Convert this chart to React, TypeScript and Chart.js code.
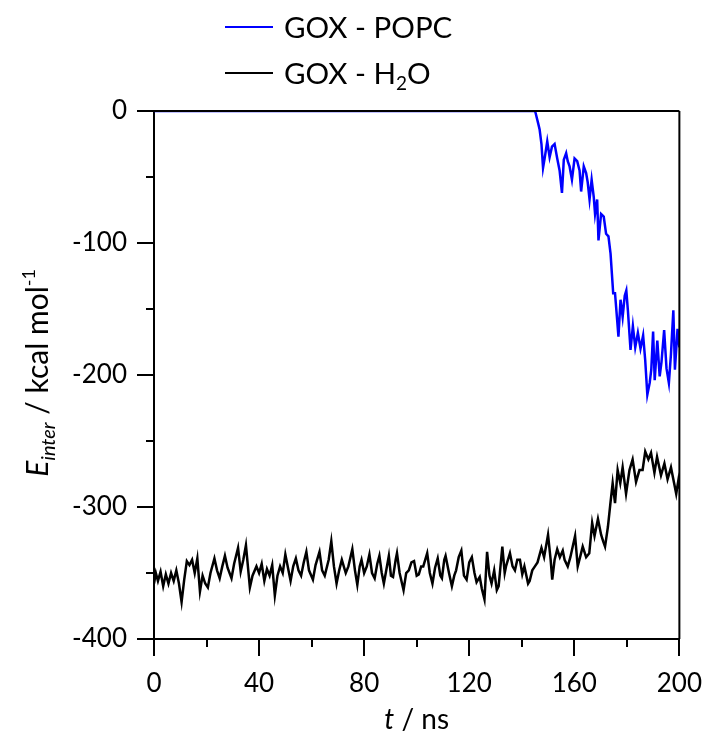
import React, { useEffect, useRef } from "react";
import { Chart, registerables } from "chart.js";

Chart.register(...registerables);

const FONT = "Lato, 'Open Sans', sans-serif";

// GOX - H2O interaction energy (kcal/mol) vs time (ns)
const tH2O = [
  0, 0.7, 1.5, 2.5, 3.5, 4.5, 5.5, 6.5, 7.5, 8.5, 9.5, 10.5, 11.5, 12.5, 13.5, 14.5, 15.5, 16.5, 17.5, 18.5,
  19.5, 20.5, 21.5, 23, 24, 25, 26, 27, 28, 29.5, 30.5, 32, 33, 34, 35, 36.5, 37.5, 39, 40, 41,
  42, 43, 44, 45, 46, 47, 48, 49, 50, 51, 52, 53, 54, 55, 56, 57, 58, 59, 60.5, 61.5,
  63, 64, 65, 66.5, 67.5, 68.5, 69.5, 70.5, 71.5, 73, 74, 75.5, 76.5, 77.4, 78.3, 79, 80, 81, 82, 83,
  84, 85, 85.8, 86.7, 87.5, 88.5, 89.4, 90.2, 91, 92, 92.5, 93.5, 95, 96, 97, 98, 99, 100, 100.8, 101.7,
  102.5, 104, 105, 106, 107, 108, 109, 109.6, 110.5, 111, 112.3, 113.4, 114.3, 115, 116, 117, 118, 119, 120, 121,
  122, 122.8, 124, 124.8, 125.8, 126.8, 127.7, 128.5, 129.5, 130.5, 131.2, 132.6, 133.5, 134, 135.5, 136.5, 137.4, 138.3, 139.3, 140.2,
  141, 142.4, 143, 144, 145, 146, 147.5, 148.5, 150, 151, 151.6, 152.5, 153.5, 154.5, 155.6, 156.3, 157.5, 158.5, 159.4, 160.3,
  161.3, 162.2, 163.2, 164.5, 165.7, 166.8, 167.7, 169, 170.2, 171, 171.7, 172.8, 173.7, 174.6, 175.5, 176.5, 177.5, 178.4, 179.7, 181,
  182.2, 183.5, 184.8, 186, 187, 188.2, 189.2, 190.5, 191.5, 193, 194.3, 195.5, 196.8, 198, 198.8, 199.6, 200,
];
const eH2O = [
  -358, -350, -356, -349, -360, -351, -358, -350, -356, -348, -358, -372, -355, -341, -344, -340, -350, -339, -364, -352,
  -358, -361, -350, -339, -348, -354, -345, -337, -346, -354, -343, -331, -349, -340, -329, -361, -352, -345, -350, -343,
  -356, -347, -352, -344, -367, -352, -345, -350, -336, -346, -356, -345, -339, -348, -352, -342, -334, -348, -355, -344,
  -334, -348, -352, -340, -326, -345, -358, -348, -340, -350, -345, -332, -348, -359, -345, -340, -350, -345, -336, -350,
  -354, -343, -337, -350, -358, -347, -337, -352, -353, -340, -335, -350, -363, -350, -348, -342, -341, -352, -351, -345,
  -345, -335, -350, -358, -346, -339, -352, -354, -340, -337, -350, -360, -352, -348, -338, -333, -352, -355, -342, -338,
  -350, -357, -353, -362, -370, -334, -352, -358, -348, -363, -360, -330, -350, -345, -335, -345, -348, -340, -340, -351,
  -345, -358, -356, -348, -345, -342, -331, -338, -321, -340, -355, -340, -332, -338, -333, -340, -345, -338, -330, -322,
  -345, -338, -330, -338, -335, -312, -322, -309, -321, -326, -330, -315, -298, -282, -297, -272, -282, -270, -290, -272,
  -264, -281, -272, -272, -258, -264, -259, -274, -262, -276, -267, -279, -270, -282, -290, -280, -286,
];

// GOX - POPC interaction energy (kcal/mol) vs time (ns)
const tPOPC = [
  0, 145, 145.2, 146.2, 146.8, 147.5, 148.1, 148.7, 149.7, 150.6, 151.5, 152.5, 153.5, 154.4, 155.3, 156, 156.9, 157.5, 158.2, 159.1,
  160.1, 161.1, 162, 162.6, 163.6, 164.5, 165.1, 165.8, 166.6, 167.4, 167.9, 168.7, 169.2, 170.2, 171.2, 172.1, 173, 173.8, 174.3, 174.8,
  175.5, 176.3, 176.8, 177.6, 178.4, 179.2, 179.8, 180.4, 181.4, 182.3, 183.2, 184.2, 185.2, 186.2, 187, 187.8, 188.7, 189.3, 190, 190.6,
  191.6, 192.5, 193.2, 194.2, 195.1, 196, 196.8, 197.7, 198.3, 199.3, 200,
];
const ePOPC = [
  0, 0, -1, -9, -14, -25, -43, -36, -23, -35, -27, -25, -36, -45, -62, -37, -32, -38, -42, -52,
  -36, -38, -45, -61, -42, -47, -54, -67, -52, -65, -78, -67, -98, -78, -80, -93, -95, -108, -123, -138,
  -138, -158, -171, -143, -156, -140, -136, -151, -181, -163, -179, -168, -180, -170, -189, -215, -206, -196, -167, -204,
  -174, -201, -190, -166, -195, -206, -184, -151, -196, -165, -179,
];

const seriesLabels = ["GOX - POPC", "GOX - H2O"];
const seriesColors = ["#0000FF", "#000000"];
const xMajor = [0, 40, 80, 120, 160, 200];
const xMinor = [20, 60, 100, 140, 180];
const yMajor = [0, -100, -200, -300, -400];
const yMinor = [-50, -150, -250, -350];

type Run = { text: string; italic?: boolean; size: number; dy?: number };

function drawRuns(ctx: CanvasRenderingContext2D, runs: Run[], x: number, y: number, align: "left" | "center") {
  let total = 0;
  for (const r of runs) {
    ctx.font = `${r.italic ? "italic " : ""}${r.size}px ${FONT}`;
    total += ctx.measureText(r.text).width;
  }
  let cx = align === "center" ? x - total / 2 : x;
  ctx.textAlign = "left";
  ctx.textBaseline = "alphabetic";
  for (const r of runs) {
    ctx.font = `${r.italic ? "italic " : ""}${r.size}px ${FONT}`;
    ctx.fillText(r.text, cx, y + (r.dy || 0));
    cx += ctx.measureText(r.text).width;
  }
}

const decorPlugin = {
  id: "decor",
  afterDraw(chart: any) {
    const ctx: CanvasRenderingContext2D = chart.ctx;
    const { left, right, top, bottom } = chart.chartArea;
    const xs = chart.scales.x;
    const ys = chart.scales.y;
    ctx.save();
    ctx.strokeStyle = "#000";
    ctx.fillStyle = "#000";
    ctx.lineWidth = 2;
    // frame top & right
    ctx.beginPath();
    ctx.moveTo(left, top);
    ctx.lineTo(right, top);
    ctx.moveTo(right, top);
    ctx.lineTo(right, bottom);
    ctx.stroke();
    // minor ticks
    ctx.beginPath();
    for (const v of xMinor) {
      const px = Math.round(xs.getPixelForValue(v));
      ctx.moveTo(px, bottom);
      ctx.lineTo(px, bottom + 8);
    }
    for (const v of yMinor) {
      const py = Math.round(ys.getPixelForValue(v));
      ctx.moveTo(left, py);
      ctx.lineTo(left - 8, py);
    }
    ctx.stroke();

    // legend
    const legY = [27, 73];
    for (let i = 0; i < 2; i++) {
      ctx.strokeStyle = seriesColors[i];
      ctx.lineWidth = 2;
      ctx.beginPath();
      ctx.moveTo(225, legY[i]);
      ctx.lineTo(273, legY[i]);
      ctx.stroke();
    }
    ctx.fillStyle = "#000";
    drawRuns(ctx, [{ text: seriesLabels[0], size: 29.5 }], 284, legY[0] + 11, "left");
    drawRuns(
      ctx,
      [
        { text: "GOX - H", size: 29.5 },
        { text: "2", size: 19, dy: 6 },
        { text: "O", size: 29.5 },
      ],
      284,
      legY[1] + 11,
      "left"
    );

    // x title
    drawRuns(
      ctx,
      [
        { text: "t", italic: true, size: 28 },
        { text: " / ns", size: 28 },
      ],
      (left + right) / 2,
      729,
      "center"
    );

    // y title (rotated)
    ctx.translate(48, 373);
    ctx.rotate(-Math.PI / 2);
    drawRuns(
      ctx,
      [
        { text: "E", italic: true, size: 30 },
        { text: "inter", italic: true, size: 20, dy: 7 },
        { text: " / kcal mol", size: 30 },
        { text: "-1", size: 18, dy: -13 },
      ],
      0,
      0,
      "center"
    );
    ctx.restore();
  },
};

export default function App() {
  const ref = useRef<HTMLCanvasElement | null>(null);
  useEffect(() => {
    if (!ref.current) return;
    const chart = new Chart(ref.current, {
      type: "line",
      data: {
        datasets: [
          {
            label: seriesLabels[0],
            data: tPOPC.map((t, i) => ({ x: t, y: ePOPC[i] })),
            borderColor: seriesColors[0],
            borderWidth: 2.5,
            pointRadius: 0,
            tension: 0,
            fill: false,
          },
          {
            label: seriesLabels[1],
            data: tH2O.map((t, i) => ({ x: t, y: eH2O[i] })),
            borderColor: seriesColors[1],
            borderWidth: 2.5,
            pointRadius: 0,
            tension: 0,
            fill: false,
          },
        ],
      },
      options: {
        animation: false,
        responsive: false,
        maintainAspectRatio: false,
        layout: { padding: { top: 111, right: 32, left: 0, bottom: 0 } },
        plugins: { legend: { display: false }, tooltip: { enabled: false } },
        scales: {
          x: {
            type: "linear",
            min: 0,
            max: 200,
            afterBuildTicks: (s: any) => {
              s.ticks = xMajor.map((v) => ({ value: v }));
            },
            afterFit: (s: any) => {
              s.height = 99;
            },
            ticks: {
              font: { family: FONT, size: 26 },
              color: "#000",
              padding: 12,
              maxRotation: 0,
              autoSkip: false,
            },
            grid: { drawOnChartArea: false, drawTicks: true, tickLength: 17, color: "#000", lineWidth: 2 },
            border: { display: true, color: "#000", width: 2 },
          },
          y: {
            type: "linear",
            min: -400,
            max: 0,
            afterBuildTicks: (s: any) => {
              s.ticks = yMajor.map((v) => ({ value: v }));
            },
            afterFit: (s: any) => {
              s.width = 154;
            },
            ticks: {
              font: { family: FONT, size: 26 },
              color: "#000",
              padding: 10,
              autoSkip: false,
            },
            grid: { drawOnChartArea: false, drawTicks: true, tickLength: 17, color: "#000", lineWidth: 2 },
            border: { display: true, color: "#000", width: 2 },
          },
        },
      },
      plugins: [decorPlugin],
    });
    return () => chart.destroy();
  }, []);
  return (
    <div style={{ position: "absolute", left: 0, top: 0, width: 714, height: 738, background: "#fff" }}>
      <canvas ref={ref} width={714} height={738} style={{ width: 714, height: 738, display: "block" }} />
    </div>
  );
}
